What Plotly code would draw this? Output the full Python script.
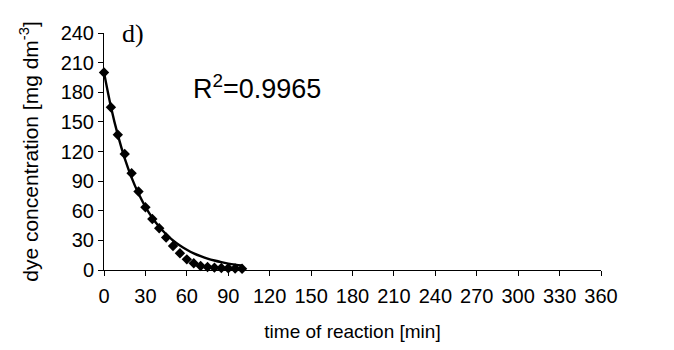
import plotly.graph_objects as go

# measured data (time in min, dye concentration in mg dm^-3)
time_min = [0, 5, 10, 15, 20, 25, 30, 35, 40, 45, 50, 55, 60, 65, 70, 75, 80, 85, 90, 95, 100]
conc = [200, 164.8, 137, 117.5, 98, 79.5, 63.6, 51.7, 42.3, 32.9, 24.3, 16.9, 10.8, 6.8, 4.0, 3.0, 2.4, 2.1, 1.8, 1.5, 1.2]

# fitted trend line
fit_time = [0, 5, 10, 15, 20, 25, 30, 35, 40, 45, 50, 55, 60, 65, 70, 75, 80, 85, 90, 95, 100]
fit_conc = [200, 165.4, 136.8, 113.1, 93.6, 77.4, 64.0, 52.9, 43.7, 36.2, 29.9, 24.7, 20.5, 16.9, 14.0, 11.6, 9.6, 7.9, 6.5, 5.4, 4.5]

x_ticks = [0, 30, 60, 90, 120, 150, 180, 210, 240, 270, 300, 330, 360]
y_ticks = [0, 30, 60, 90, 120, 150, 180, 210, 240]

FONT = "Liberation Sans, Arial, sans-serif"

fig = go.Figure()
fig.add_trace(go.Scatter(
    x=fit_time, y=fit_conc, mode="lines", line=dict(color="black", width=2.4, shape="spline"),
    hoverinfo="skip", showlegend=False, cliponaxis=False))
fig.add_trace(go.Scatter(
    x=time_min, y=conc, mode="markers",
    marker=dict(symbol="diamond", size=8, color="black"),
    showlegend=False, cliponaxis=False))

axis_common = dict(
    showgrid=False, zeroline=False, showline=True, linecolor="black", linewidth=1,
    ticks="outside", ticklen=5, tickcolor="black", tickwidth=1,
    tickfont=dict(family=FONT, size=20, color="black"),
)

fig.update_xaxes(range=[0, 360], tickvals=x_ticks, ticktext=[str(v) for v in x_ticks],
                 ticklabelstandoff=3,
                 title=dict(text="time of reaction [min]", font=dict(family=FONT, size=19, color="black"), standoff=18),
                 **axis_common)
fig.update_yaxes(range=[0, 240], tickvals=y_ticks, ticktext=[str(v) for v in y_ticks],
                 title=dict(text="dye concentration [mg dm<sup>-3</sup>]", font=dict(family=FONT, size=21, color="black"), standoff=16),
                 **axis_common)

fig.add_annotation(x=63, y=185, xref="x", yref="y", text="R<sup>2</sup>=0.9965", showarrow=False,
                   xanchor="left", yanchor="middle", font=dict(family=FONT, size=27, color="black"))
fig.add_annotation(x=0.033, y=1.0, xref="x domain", yref="y domain", text="d)", showarrow=False,
                   xanchor="left", yanchor="middle",
                   font=dict(family="Liberation Serif, Times New Roman, serif", size=26, color="black"))

fig.update_layout(
    width=674, height=350, autosize=False,
    margin=dict(l=96, r=81, t=25, b=88, pad=0),
    plot_bgcolor="white", paper_bgcolor="white",
)

fig.write_html("out.html")
